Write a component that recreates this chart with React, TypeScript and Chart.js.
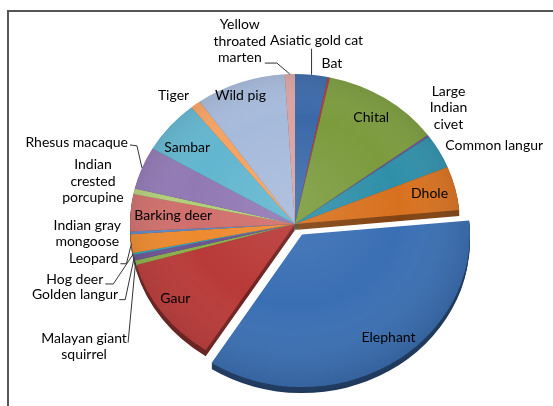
import React, { useEffect, useRef } from 'react';
import { Chart, registerables } from 'chart.js';

Chart.register(...registerables);

// ---------- data ----------
const CATEGORIES = [
  'Asiatic gold cat', 'Bat', 'Chital', 'Large Indian civet', 'Common langur', 'Dhole',
  'Elephant', 'Gaur', 'Malayan giant squirrel', 'Golden langur', 'Hog deer', 'Leopard',
  'Indian gray mongoose', 'Barking deer', 'Indian crested porcupine', 'Rhesus macaque',
  'Sambar', 'Tiger', 'Wild pig', 'Yellow throated marten',
];
const SHARES = [3.2, 0.2, 11.5, 0.2, 3.7, 4.7, 35.6, 11.5, 0.5, 0.6, 0.2, 2.0, 0.3, 4.0, 0.6, 4.6, 5.8, 1.0, 8.8, 1.0];
const EXPLODED = ['Elephant'];
const COLORS = [
  '#3b69a8', '#b83a38', '#7b9b3d', '#6a5296', '#2f8fa9', '#d8711f',
  '#3a6fb4', '#b93a38', '#8aaf48', '#6c5394', '#34a0bb', '#ee8a2e',
  '#5a88c6', '#d06f6c', '#b3cf7a', '#9179b4', '#62b6cf', '#f6a262',
  '#a6badb', '#d9a3a2',
];

// ---------- styling / layout ----------
const SY = 150 / 165; // vertical squash for tilted pie
const DEPTH = 6;
const EXPLODE_OFFSET = 54;
const LABEL_FONT = '14px Lato';
const LINE_H = 16.5;

type Lay = {
  mode: 'in' | 'out';
  r?: number; dA?: number;
  dx?: number; dy?: number;
  align?: CanvasTextAlign; wrap?: number;
  leader?: number[][];
};

const LAYOUT: Lay[] = [
  { mode: 'out', dx: 5, dy: -34, leader: [[0, 0], [0, -26]] },
  { mode: 'out', dx: 3, dy: -14 },
  { mode: 'in', r: 0.85 },
  { mode: 'out', dx: 20, dy: -28, wrap: 45 },
  { mode: 'out', dx: 6, dy: -6, align: 'left' },
  { mode: 'in', r: 0.84 },
  { mode: 'in', r: 0.85, dA: -6 },
  { mode: 'in', r: 0.88, dA: 2 },
  { mode: 'out', dx: -51.5, dy: 84, wrap: 95, leader: [[0, 0], [-7.5, 80]] },
  { mode: 'out', dx: -16, dy: 37, align: 'right', leader: [[0, 0], [-9, 42], [-15, 42]] },
  { mode: 'out', dx: -30, dy: 26, align: 'right', leader: [[0, 0], [-20, 30], [-28, 30]] },
  { mode: 'out', dx: -13, dy: 15, align: 'right', leader: [[0, 0], [-5, 20], [-11, 20]] },
  { mode: 'out', dx: -43, dy: 0.5, wrap: 80 },
  { mode: 'in', r: 0.74 },
  { mode: 'out', dx: -41, dy: -10, wrap: 70 },
  { mode: 'out', dx: -14, dy: -25, align: 'right', leader: [[0, 0], [-5, -22], [-12, -23]] },
  { mode: 'in', r: 0.83, dA: -2.6 },
  { mode: 'out', dx: -22, dy: -8.5 },
  { mode: 'in', r: 0.92, dA: -1.6 },
  { mode: 'out', dx: -50, dy: -33, wrap: 60, leader: [[0, 0], [-13, -11], [-25, -11]] },
];

function wrapText(ctx: CanvasRenderingContext2D, text: string, maxW?: number): string[] {
  if (!maxW) return [text];
  const words = text.split(' ');
  const lines: string[] = [];
  let cur = '';
  for (const w of words) {
    const t = cur ? cur + ' ' + w : w;
    if (cur && ctx.measureText(t).width > maxW) {
      lines.push(cur);
      cur = w;
    } else cur = t;
  }
  if (cur) lines.push(cur);
  return lines;
}

function geom(arc: any) {
  const off = ((arc.options && arc.options.offset) || 0) / 4;
  const circ = arc.circumference;
  const fix = 1 - Math.sin(Math.min(Math.PI, circ || 0));
  const h = (arc.startAngle + arc.endAngle) / 2;
  const ax = arc.x + Math.cos(h) * off;
  const ay = arc.y + Math.sin(h) * off;
  const R = arc.outerRadius + off * fix;
  const cy = arc.y;
  const pt = (ang: number, rad: number) => {
    const px = ax + Math.cos(ang) * rad;
    const py = ay + Math.sin(ang) * rad;
    return { x: px, y: cy + (py - cy) * SY };
  };
  return { h, R, pt };
}

const pie3d = {
  id: 'pie3d',
  beforeDatasetsDraw(chart: any) {
    const ctx = chart.ctx as CanvasRenderingContext2D;
    const arcs = chart.getDatasetMeta(0).data;
    ctx.save();
    if (!arcs.length) return;
    const cy = arcs[0].y;
    ctx.translate(0, cy);
    ctx.scale(1, SY);
    ctx.translate(0, -cy);
    for (let t = DEPTH; t >= 1; t--) {
      ctx.save();
      ctx.translate(0, t / SY);
      ctx.filter = 'brightness(0.6)';
      arcs.forEach((a: any) => a.draw(ctx));
      ctx.restore();
    }
  },
  afterDatasetsDraw(chart: any) {
    const ctx = chart.ctx as CanvasRenderingContext2D;
    const arcs = chart.getDatasetMeta(0).data;
    if (arcs.length) {
      const a0 = arcs[0];
      ctx.save();
      ctx.globalCompositeOperation = 'source-atop';
      const g = ctx.createRadialGradient(a0.x, a0.y - 30, 0, a0.x, a0.y, a0.outerRadius * 1.15);
      g.addColorStop(0, 'rgba(255,255,255,0.10)');
      g.addColorStop(0.55, 'rgba(255,255,255,0)');
      g.addColorStop(1, 'rgba(0,0,0,0.16)');
      ctx.fillStyle = g;
      ctx.fillRect(0, -600, chart.width, 2000);
      ctx.restore();
    }
    ctx.restore();
  },
  afterDraw(chart: any) {
    const ctx = chart.ctx as CanvasRenderingContext2D;
    // frame
    ctx.save();
    ctx.strokeStyle = '#555';
    ctx.lineWidth = 2;
    ctx.beginPath();
    ctx.moveTo(8, chart.height);
    ctx.lineTo(8, 11);
    ctx.lineTo(chart.width, 11);
    ctx.stroke();
    ctx.restore();

    const arcs = chart.getDatasetMeta(0).data;
    ctx.save();
    ctx.font = LABEL_FONT;
    ctx.fillStyle = '#000';
    ctx.textBaseline = 'middle';
    arcs.forEach((arc: any, i: number) => {
      const L = LAYOUT[i];
      const { h, R, pt } = geom(arc);
      const lines = wrapText(ctx, CATEGORIES[i], L.wrap);
      let ax: number, ay: number;
      if (L.mode === 'in') {
        const p = pt(h + ((L.dA || 0) * Math.PI) / 180, (L.r || 0.8) * R);
        ax = p.x; ay = p.y;
        ctx.textAlign = 'center';
      } else {
        const E = pt(h, R);
        ax = E.x + (L.dx || 0);
        ay = E.y + (L.dy || 0);
        ctx.textAlign = L.align || 'center';
        if (L.leader) {
          ctx.save();
          ctx.strokeStyle = '#333';
          ctx.lineWidth = 1;
          ctx.beginPath();
          L.leader.forEach((q, k) => {
            const x = E.x + q[0], y = E.y + q[1];
            if (k === 0) ctx.moveTo(x, y); else ctx.lineTo(x, y);
          });
          ctx.stroke();
          ctx.restore();
        }
      }
      const y0 = ay - ((lines.length - 1) * LINE_H) / 2;
      lines.forEach((ln, k) => ctx.fillText(ln, ax, y0 + k * LINE_H));
    });
    ctx.restore();
  },
};

export default function App() {
  const ref = useRef<HTMLCanvasElement>(null);
  useEffect(() => {
    if (!ref.current) return;
    const chart = new Chart(ref.current, {
      type: 'pie',
      data: {
        labels: CATEGORIES,
        datasets: [
          {
            data: SHARES,
            backgroundColor: COLORS,
            borderWidth: 0,
            offset: CATEGORIES.map((c) => (EXPLODED.includes(c) ? EXPLODE_OFFSET : 0)),
            radius: 165,
            clip: false,
          } as any,
        ],
      },
      options: {
        responsive: false,
        animation: false,
        devicePixelRatio: 1,
        layout: { padding: { left: 37, top: 42, right: 0, bottom: 0 } },
        plugins: { legend: { display: false }, tooltip: { enabled: false } },
        events: [],
      },
      plugins: [pie3d as any],
    });
    return () => chart.destroy();
  }, []);
  return (
    <canvas
      ref={ref}
      width={553}
      height={406}
      style={{ position: 'absolute', left: 0, top: 0, width: 553, height: 406, display: 'block' }}
    />
  );
}
